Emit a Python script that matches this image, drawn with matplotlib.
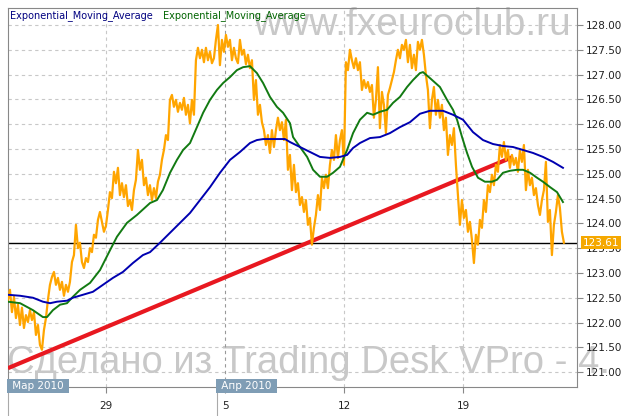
import numpy as np
import matplotlib
matplotlib.use("Agg")
import matplotlib.pyplot as plt

# EUR/JPY style quotes, x axis = trading days from Mon 29 Mar 2010 (weekends removed)
t_first, t_last = -4.12, 19.24
price = [
    122.46, 122.66, 122.21, 122.52, 122.09, 122.36, 121.95, 122.30, 121.89, 122.15,
    122.01, 122.25, 122.05, 122.21, 121.75, 121.95, 121.55, 121.45, 121.85, 122.09,
    122.46, 122.76, 122.92, 123.02, 122.76, 122.90, 122.66, 122.82, 122.54, 122.76,
    122.62, 122.82, 123.22, 123.36, 123.97, 123.50, 123.61, 123.22, 123.10, 123.30,
    123.22, 123.50, 123.42, 123.77, 123.71, 124.07, 124.23, 124.03, 123.83, 123.95,
    124.27, 124.63, 124.51, 125.04, 124.81, 125.12, 124.57, 124.81, 124.53, 124.77,
    124.35, 124.47, 124.27, 124.67, 124.88, 125.48, 125.08, 125.28, 124.77, 124.92,
    124.57, 124.77, 124.47, 124.71, 124.51, 124.84, 124.98, 125.28, 125.48, 125.78,
    125.68, 126.49, 126.59, 126.35, 126.49, 126.25, 126.43, 126.29, 126.53, 126.19,
    126.39, 126.02, 126.49, 126.19, 127.29, 127.54, 127.33, 127.50, 127.25, 127.54,
    127.29, 127.46, 127.23, 127.33, 127.70, 128.00, 127.19, 127.70, 127.46, 127.80,
    127.56, 127.70, 127.29, 127.54, 127.33, 127.23, 127.70, 127.40, 127.50, 127.21,
    127.40, 127.13, 127.29, 126.49, 126.89, 126.19, 126.39, 126.04, 125.88, 125.58,
    125.78, 125.42, 125.88, 125.54, 125.88, 126.13, 125.88, 126.04, 125.68, 126.09,
    125.08, 125.38, 124.67, 125.18, 124.63, 124.81, 124.37, 124.53, 124.23, 124.47,
    123.97, 124.11, 123.57, 123.91, 124.17, 124.57, 124.27, 124.92, 124.71, 124.98,
    124.71, 125.18, 125.48, 125.28, 125.78, 125.32, 125.68, 125.88, 125.18, 127.25,
    127.09, 127.50, 127.29, 127.13, 127.33, 127.09, 127.25, 126.69, 126.89, 126.73,
    126.85, 126.65, 126.79, 126.13, 126.49, 127.15, 125.92, 126.65, 126.39, 125.82,
    126.59, 126.73, 126.89, 127.05, 127.29, 127.50, 127.33, 127.60, 127.50, 127.70,
    127.25, 127.60, 127.13, 127.40, 127.09, 127.66, 127.50, 127.70, 127.40, 126.99,
    126.69, 125.92, 126.49, 126.75, 126.19, 126.49, 126.13, 126.39, 125.88, 126.13,
    125.38, 125.78, 125.58, 125.92, 125.18, 124.57, 123.97, 124.47, 124.11, 124.27,
    123.83, 124.03, 123.67, 123.20, 123.77, 123.57, 124.07, 123.91, 124.47, 124.23,
    124.77, 124.63, 124.98, 124.77, 125.18, 125.04, 125.58, 125.34, 125.64, 125.28,
    125.48, 125.12, 125.38, 125.18, 125.32, 125.04, 125.48, 125.24, 125.58, 124.67,
    125.08, 124.77, 124.92, 124.57, 124.71, 124.37, 124.17, 124.47, 124.67, 125.24,
    124.03, 124.27, 123.36, 123.97, 124.23, 124.57, 124.31, 123.83, 123.61,
]

# short EMA (green)
ema_fast_t = [-4.12, -3.61, -3.07, -2.65, -2.48, -2.23, -1.93, -1.64, -1.39, -1.09,
              -0.67, -0.25, 0.17, 0.46, 0.88, 1.30, 1.85, 2.14, 2.39, 2.69,
              2.98, 3.24, 3.53, 3.82, 4.08, 4.37, 4.66, 4.92, 5.21, 5.50,
              5.76, 6.05, 6.34, 6.60, 6.89, 7.18, 7.44, 7.73, 7.86, 8.15,
              8.45, 8.70, 8.99, 9.29, 9.54, 9.83, 10.13, 10.38, 10.67, 10.97,
              11.22, 11.51, 11.81, 12.06, 12.35, 12.65, 12.90, 13.19, 13.32, 13.61,
              14.03, 14.33, 14.58, 14.75, 14.96, 15.17, 15.38, 15.63, 15.92, 16.22,
              16.43, 16.68, 16.97, 17.27, 17.52, 17.82, 18.11, 18.36, 18.66, 18.95, 19.20]
ema_fast = [122.42, 122.39, 122.25, 122.11, 122.11, 122.25, 122.36, 122.39, 122.52, 122.66,
            122.80, 123.06, 123.46, 123.73, 124.01, 124.17, 124.41, 124.47, 124.67, 125.02,
            125.28, 125.48, 125.62, 125.94, 126.23, 126.49, 126.69, 126.83, 126.95, 127.09,
            127.15, 127.17, 127.03, 126.83, 126.55, 126.35, 126.23, 126.02, 125.74, 125.54,
            125.34, 125.08, 124.94, 124.94, 125.02, 125.14, 125.48, 125.82, 126.09, 126.23,
            126.19, 126.25, 126.29, 126.43, 126.55, 126.75, 126.89, 127.03, 127.05, 126.93,
            126.75, 126.49, 126.29, 126.09, 125.74, 125.42, 125.14, 124.92, 124.84, 124.84,
            124.88, 125.02, 125.06, 125.08, 125.08, 125.02, 124.92, 124.84, 124.73, 124.63, 124.43]

# long EMA (blue)
ema_slow_t = [-4.12, -3.61, -3.07, -2.65, -2.35, -2.06, -1.64, -1.39, -0.97, -0.55,
              -0.13, 0.29, 0.71, 1.13, 1.55, 1.85, 2.27, 2.69, 3.11, 3.53,
              3.95, 4.37, 4.79, 5.21, 5.63, 6.05, 6.34, 6.60, 7.18, 7.52,
              7.73, 8.15, 8.57, 8.99, 9.41, 9.83, 10.13, 10.38, 10.67, 11.09,
              11.51, 11.93, 12.35, 12.77, 13.19, 13.61, 14.16, 14.58, 15.00, 15.42,
              15.84, 16.26, 16.68, 17.10, 17.52, 17.94, 18.36, 18.78, 19.20]
ema_slow = [122.56, 122.54, 122.50, 122.42, 122.39, 122.42, 122.44, 122.50, 122.56, 122.62,
            122.76, 122.90, 123.02, 123.20, 123.36, 123.42, 123.61, 123.81, 124.01, 124.21,
            124.47, 124.73, 125.02, 125.28, 125.44, 125.62, 125.68, 125.70, 125.70, 125.70,
            125.64, 125.54, 125.44, 125.34, 125.32, 125.34, 125.38, 125.52, 125.62, 125.72,
            125.74, 125.82, 125.94, 126.04, 126.21, 126.27, 126.27, 126.19, 126.09, 125.84,
            125.68, 125.60, 125.56, 125.54, 125.48, 125.42, 125.34, 125.24, 125.12]

trend_t = [-4.12, 17.10]
trend_v = [121.08, 125.34]

last_price = 123.61
week_ticks = [0, 5, 10, 15]
week_labels = ["29", "5", "12", "19"]
months = [("Мар 2010", -4.12), ("Апр 2010", 4.66)]

fig = plt.figure(figsize=(6.3, 4.16), dpi=100)
ax = fig.add_axes([8 / 630, 29 / 416, 569 / 630, 379 / 416])
ax.set_xlim(-4.118, 19.79)
ax.set_ylim(120.70, 128.343)

# watermarks
ax.text(253 / 630, 1 - 35 / 416, "www.fxeuroclub.ru", transform=fig.transFigure,
        fontsize=28, color="#c8c8c8", family="Liberation Sans", va="baseline", zorder=0.5)
ax.text(7 / 630, 1 - 373 / 416, "Сделано из Trading Desk VPro - 4.", transform=fig.transFigure,
        fontsize=27.5, color="#c8c8c8", family="Liberation Sans", va="baseline", zorder=0.5)

# grid
for v in np.arange(121.0, 128.01, 0.5):
    ax.axhline(v, color="#c8c8c8", lw=0.8, ls=(0, (3, 3)), zorder=1)
for w in week_ticks:
    ax.axvline(w, color="#999999" if w == 5 else "#c8c8c8", lw=0.8, ls=(0, (3, 3)), zorder=1)

ax.axhline(last_price, color="black", lw=1, zorder=2)
ax.plot(trend_t, trend_v, color="#e81820", lw=3, zorder=3, solid_capstyle="butt")

t = np.linspace(t_first, t_last, len(price))
ax.plot(t, price, color="#ffa500", lw=1.6, zorder=4)
ax.plot(ema_fast_t, ema_fast, color="#127a12", lw=1.4, zorder=5)
ax.plot(ema_slow_t, ema_slow, color="#0000b0", lw=1.4, zorder=5)

# axes styling
for s in ax.spines.values():
    s.set_color("#888888")
ax.yaxis.tick_right()
ax.set_yticks(np.arange(121.0, 128.01, 0.5))
ax.set_yticklabels([f"{v:.2f}" for v in np.arange(121.0, 128.01, 0.5)])
ax.tick_params(axis="y", length=4, color="#888888", labelsize=7.5, labelcolor="#222222", pad=2)
ax.set_xticks(week_ticks)
ax.set_xticklabels(week_labels)
ax.tick_params(axis="x", length=4, color="#888888", labelsize=7.5, labelcolor="#222222", pad=6)

# last price tag
ax.text(1.0105, last_price, f"{last_price:.2f}", transform=ax.get_yaxis_transform(),
        fontsize=7.5, color="white", va="center", ha="left",
        bbox=dict(boxstyle="square,pad=0.15", fc="#f5a800", ec="none"), zorder=6, clip_on=False)

# legend labels
ax.text(10 / 630, 1 - 16 / 416, "Exponential_Moving_Average", transform=fig.transFigure,
        fontsize=7, color="#000080", va="center")
ax.text(163 / 630, 1 - 16 / 416, "Exponential_Moving_Average", transform=fig.transFigure,
        fontsize=7, color="#006400", va="center")

# month boxes under the axis
for name, pos in months:
    ax.axvline(pos, ymin=-0.08, ymax=0, color="#aaaaaa", lw=0.8, clip_on=False)
    ax.text(pos + 0.06, 120.72, " " + name + " ", fontsize=7.5, color="white", va="center", ha="left",
            bbox=dict(boxstyle="square,pad=0.2", fc="#7f9db5", ec="none"), zorder=6, clip_on=False)

fig.savefig("out.png", dpi=100)
